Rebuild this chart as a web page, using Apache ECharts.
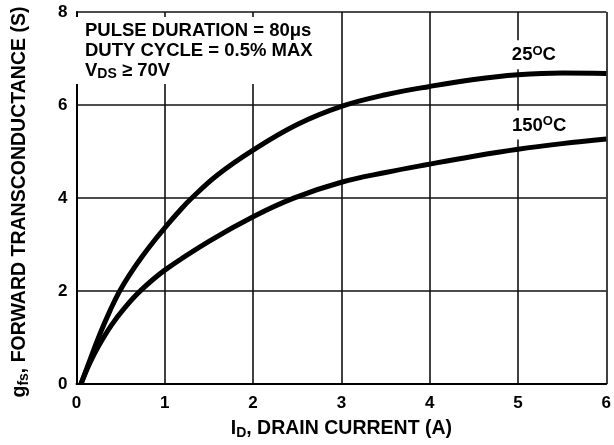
<!DOCTYPE html>
<html lang="en">
  <head>
    <meta charset="utf-8" />
    <script src="https://cdn.jsdelivr.net/npm/echarts@6.0.0/dist/echarts.min.js"></script>
  </head>
  <body style="margin: 0; background: #fff">
    <div id="container" style="width: 614px; height: 445px"></div>
    <script type="text/javascript">
      // ID (A) vs gfs (S)
      const id25 = [0.05, 0.16, 0.27, 0.38, 0.48, 0.6, 0.75, 0.9, 1, 1.15, 1.3, 1.6, 2, 2.5, 3, 3.5, 4, 4.5, 5, 5.5, 6];
      const gfs25 = [0, 0.56, 1.1, 1.58, 1.97, 2.35, 2.76, 3.13, 3.36, 3.69, 3.99, 4.5, 5.03, 5.58, 5.97, 6.22, 6.4, 6.55, 6.65, 6.69, 6.68];
      const id150 = [0.05, 0.15, 0.25, 0.4, 0.55, 0.72, 1, 1.5, 2, 2.46, 3, 3.5, 4, 4.5, 5, 5.5, 6];
      const gfs150 = [0, 0.45, 0.82, 1.28, 1.65, 2.0, 2.45, 3.07, 3.6, 4.0, 4.34, 4.55, 4.73, 4.9, 5.05, 5.17, 5.27];
      const xTicks = [0, 1, 2, 3, 4, 5, 6];
      const yTicks = [0, 2, 4, 6, 8];
      const curveNames = ["25", "150"];
      const labelAt = [
        [5.18, 7.08],
        [5.24, 5.57],
      ];
      const noteLines = ["PULSE DURATION = 80\u03bcs", "DUTY CYCLE = 0.5% MAX"];

      const font = "'Liberation Sans', Arial, sans-serif";
      const big = { fontFamily: font, fontWeight: "bold", fontSize: 18.5, color: "#000" };
      const nameFont = { fontFamily: font, fontWeight: "bold", fontSize: 19.5, color: "#000" };

      function pairs(xs, ys) {
        return xs.map((x, i) => [x, ys[i]]);
      }

      function curve(name, xs, ys, at) {
        return {
          name: name,
          type: "line",
          data: pairs(xs, ys),
          smooth: 0.4,
          showSymbol: false,
          silent: true,
          lineStyle: { color: "#000", width: 5 },
          markPoint: {
            symbol: "rect",
            symbolSize: 0,
            data: [{ coord: at }],
            label: {
              show: true,
              position: "inside",
              backgroundColor: "#fff",
              padding: [5, 2, 4, 2],
              formatter: "{n|" + name + "}{sup|O}{n|C}",
              rich: {
                n: Object.assign({}, big, { lineHeight: 20 }),
                sup: { fontFamily: font, fontWeight: "bold", fontSize: 13, color: "#000", lineHeight: 20, padding: [0, 0, 8, 0] },
              },
            },
          },
        };
      }

      var dom = document.getElementById("container");
      var myChart = echarts.init(dom, null, { renderer: "canvas" });

      var option = {
        animation: false,
        backgroundColor: "#fff",
        grid: { left: 74, right: 6, top: 12, bottom: 53 },
        xAxis: {
          type: "value",
          min: xTicks[0],
          max: xTicks[xTicks.length - 1],
          interval: 1,
          axisLine: { show: true, onZero: false, lineStyle: { color: "#000", width: 2 } },
          axisTick: { show: false },
          axisLabel: { fontFamily: font, fontWeight: "bold", fontSize: 17, color: "#000", margin: 11 },
          splitLine: { show: true, lineStyle: { color: "#111", width: 1.6 } },
          name: "{n|I}{s|D}{n|, DRAIN CURRENT (A)}",
          nameLocation: "middle",
          nameGap: 30,
          nameTextStyle: {
            rich: {
              n: Object.assign({}, nameFont, { lineHeight: 20 }),
              s: { fontFamily: font, fontWeight: "bold", fontSize: 14, color: "#000", lineHeight: 20, padding: [9, 0, 0, 0] },
            },
          },
        },
        yAxis: {
          type: "value",
          min: yTicks[0],
          max: yTicks[yTicks.length - 1],
          interval: 2,
          axisLine: { show: true, onZero: false, lineStyle: { color: "#000", width: 2 } },
          axisTick: { show: false },
          axisLabel: { fontFamily: font, fontWeight: "bold", fontSize: 17, color: "#000", margin: 9 },
          splitLine: { show: true, lineStyle: { color: "#111", width: 1.6 } },
          name: "{n|g}{s|fs}{n|, FORWARD TRANSCONDUCTANCE (S)}",
          nameLocation: "middle",
          nameRotate: 90,
          nameGap: 47,
          nameTextStyle: {
            padding: [0, 8, 0, 0],
            rich: {
              n: Object.assign({}, nameFont, { lineHeight: 20 }),
              s: { fontFamily: font, fontWeight: "bold", fontSize: 14, color: "#000", lineHeight: 20, padding: [9, 0, 0, 0] },
            },
          },
        },
        graphic: [
          {
            type: "rect",
            left: 76,
            top: 17,
            shape: { width: 248, height: 67 },
            style: { fill: "#fff" },
            z: 50,
          },
          {
            type: "text",
            left: 85,
            top: 21,
            z: 51,
            style: {
              text: noteLines.map((t) => "{n|" + t + "}").join("\n") + "\n{n|V}{s|DS}{n| \u2265 70V}",
              rich: {
                n: Object.assign({}, big, { lineHeight: 20 }),
                s: { fontFamily: font, fontWeight: "bold", fontSize: 14, fill: "#000", lineHeight: 20, padding: [7, 0, 0, 0] },
              },
            },
          },
        ],
        series: [
          curve(curveNames[0], id25, gfs25, labelAt[0]),
          curve(curveNames[1], id150, gfs150, labelAt[1]),
        ],
      };

      myChart.setOption(option);
      window.addEventListener("resize", myChart.resize);
    </script>
  </body>
</html>
